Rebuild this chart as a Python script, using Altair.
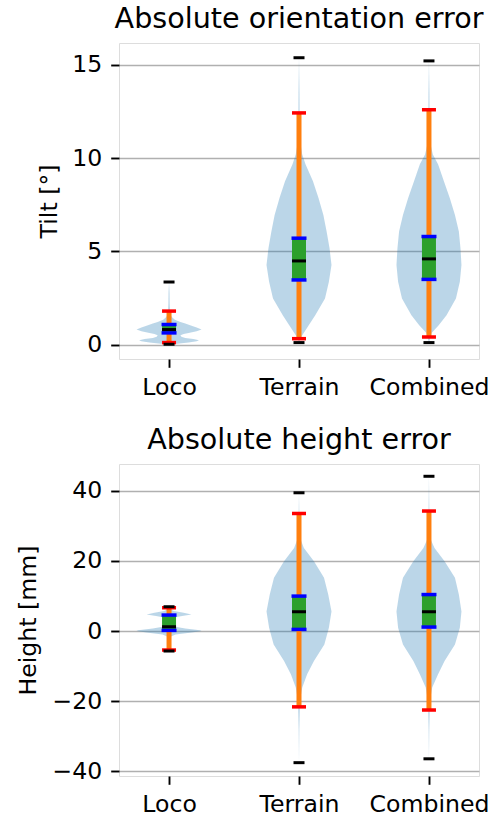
import altair as alt
import pandas as pd

categories = ["Loco", "Terrain", "Combined"]
positions = [1, 2, 3]

# ---- Absolute orientation error (Tilt, degrees) ----
tilt_min = [0.02, 0.11, 0.11]
tilt_whisk_lo = [0.11, 0.32, 0.41]
tilt_q1 = [0.63, 3.47, 3.50]
tilt_median = [0.81, 4.49, 4.60]
tilt_q3 = [1.08, 5.71, 5.80]
tilt_whisk_hi = [1.80, 12.43, 12.60]
tilt_max = [3.36, 15.39, 15.22]

# violin profiles: value and relative half-width (1 = widest)
tilt_loco_v = [0.0, 0.05, 0.11, 0.18, 0.24, 0.30, 0.36, 0.43, 0.50, 0.57, 0.63, 0.72, 0.81, 0.92, 1.04, 1.13, 1.22, 1.34, 1.46, 1.58, 1.8, 2.2, 2.8, 3.36]
tilt_loco_w = [0.0, 0.25, 0.6, 0.85, 0.92, 0.75, 0.5, 0.38, 0.35, 0.45, 0.6, 0.85, 1.0, 0.85, 0.65, 0.5, 0.35, 0.18, 0.1, 0.05, 0.03, 0.02, 0.015, 0.0]
tilt_terrain_v = [0.11, 0.24, 0.5, 1.04, 1.58, 2.48, 3.37, 4.27, 5.17, 6.07, 6.96, 7.86, 8.76, 9.67, 10.2, 10.73, 11.9, 13.5, 15.39]
tilt_terrain_w = [0.0, 0.02, 0.1, 0.3, 0.5, 0.8, 0.92, 1.0, 0.94, 0.85, 0.75, 0.6, 0.43, 0.2, 0.1, 0.05, 0.02, 0.015, 0.0]
tilt_combined_v = [0.11, 0.3, 0.63, 1.04, 1.58, 2.48, 3.37, 4.27, 5.17, 6.07, 6.96, 7.86, 8.76, 9.67, 10.2, 10.73, 11.9, 13.5, 15.22]
tilt_combined_w = [0.0, 0.03, 0.08, 0.3, 0.54, 0.83, 0.95, 1.0, 0.97, 0.92, 0.8, 0.64, 0.46, 0.28, 0.12, 0.05, 0.02, 0.015, 0.0]

# ---- Absolute height error (mm) ----
height_min = [-5.69, -37.5, -36.4]
height_whisk_lo = [-5.41, -21.6, -22.5]
height_q1 = [0.19, 0.47, 1.14]
height_median = [1.23, 5.5, 5.5]
height_q3 = [4.56, 9.96, 10.4]
height_whisk_hi = [6.64, 33.5, 34.2]
height_max = [6.93, 39.4, 44.1]

height_loco_v = [-5.69, -3.0, -1.6, -1.0, -0.4, 0.0, 0.2, 0.7, 1.3, 2.0, 3.0, 3.8, 4.3, 4.75, 5.2, 5.7, 6.2, 6.93]
height_loco_w = [0.0, 0.01, 0.04, 0.2, 0.7, 1.0, 0.95, 0.5, 0.15, 0.05, 0.05, 0.12, 0.4, 0.69, 0.45, 0.15, 0.04, 0.0]
height_terrain_v = [-37.5, -28.0, -19.9, -16.1, -12.3, -8.5, -3.8, 0.95, 5.6, 10.4, 15.2, 19.9, 23.7, 26.6, 32.0, 39.4]
height_terrain_w = [0.0, 0.01, 0.03, 0.1, 0.25, 0.46, 0.78, 0.92, 1.0, 0.9, 0.77, 0.46, 0.15, 0.03, 0.012, 0.0]
height_combined_v = [-36.4, -28.0, -19.9, -16.1, -12.3, -8.5, -3.8, 0.95, 5.6, 10.4, 15.2, 19.9, 23.7, 26.6, 34.0, 44.1]
height_combined_w = [0.0, 0.01, 0.03, 0.1, 0.28, 0.48, 0.8, 0.95, 1.0, 0.92, 0.8, 0.48, 0.17, 0.03, 0.012, 0.0]

FONT = "DejaVu Sans"
X_DOMAIN = [0.615, 3.385]
TICK_FS = 23.6
TITLE_FS = 28.6


def stats_df(mins, wlo, q1, med, q3, whi, maxs):
    return pd.DataFrame({
        "cat": categories, "pos": positions, "min": mins, "wlo": wlo,
        "q1": q1, "median": med, "q3": q3, "whi": whi, "max": maxs,
    })


def violin_df(pos, vs, ws):
    return pd.DataFrame({"pos": [pos] * len(vs), "value": vs, "w": ws})


label_expr = " : ".join(
    f"datum.value == {p} ? '{c}'" for p, c in zip(positions[:-1], categories[:-1])
) + f" : '{categories[-1]}'"


def panel(stats, profiles, title, ytitle, domain, ticks, height, title_x):
    xscale = alt.Scale(domain=X_DOMAIN, nice=False, zero=False)
    yscale = alt.Scale(domain=domain, nice=False, zero=False)
    xaxis = alt.Axis(values=positions, labelExpr=label_expr, grid=False, title=None,
                     domain=False, tickColor="black", tickWidth=1.9, tickSize=8.3,
                     labelFont=FONT, labelFontSize=TICK_FS, labelColor="black",
                     labelPadding=8, labelAngle=0)
    yaxis = alt.Axis(values=ticks, format="d", grid=True, gridColor="#b0b0b0",
                     gridWidth=1.6, domain=False, tickColor="black", tickWidth=1.9,
                     tickSize=8.3, labelFont=FONT, labelFontSize=TICK_FS,
                     labelColor="black", labelPadding=9, title=ytitle,
                     titleFont=FONT, titleFontSize=TICK_FS, titleFontWeight="normal",
                     titleColor="black", titleAngle=270, titleAlign="center",
                     titleBaseline="middle", titleX=title_x, titleY=height / 2)

    def X(field):
        return alt.X(field, type="quantitative", scale=xscale, axis=xaxis, stack=None)

    def Y(field):
        return alt.Y(field, type="quantitative", scale=yscale, axis=yaxis, stack=None)

    layers = []
    for pos, (vs, ws) in zip(positions, profiles):
        layers.append(
            alt.Chart(violin_df(pos, vs, ws)).transform_calculate(
                lo="datum.pos - datum.w * 0.25", hi="datum.pos + datum.w * 0.25"
            ).mark_area(orient="horizontal", color="#1f77b4", opacity=0.3).encode(
                y=Y("value"), x=X("lo"), x2="hi:Q"
            )
        )
    base = alt.Chart(stats)
    layers += [
        base.mark_rule(color="#ff7f0e", strokeWidth=5).encode(
            x=X("pos"), y=Y("wlo"), y2="whi:Q"),
        base.mark_rule(color="#2ca02c", strokeWidth=14).encode(
            x=X("pos"), y=Y("q1"), y2="q3:Q"),
        base.transform_fold(["q1", "q3"], as_=["k", "v"]).mark_tick(
            orient="horizontal", color="#0000ff", size=15, thickness=3.5, opacity=1
        ).encode(x=X("pos"), y=Y("v")),
        base.transform_fold(["wlo", "whi"], as_=["k", "v"]).mark_tick(
            orient="horizontal", color="#ff0000", size=14, thickness=3.5, opacity=1
        ).encode(x=X("pos"), y=Y("v")),
        base.mark_tick(orient="horizontal", color="black", size=14, thickness=3,
                       opacity=1).encode(x=X("pos"), y=Y("median")),
        base.transform_fold(["min", "max"], as_=["k", "v"]).mark_tick(
            orient="horizontal", color="black", size=11, thickness=3, opacity=1
        ).encode(x=X("pos"), y=Y("v")),
    ]

    return alt.layer(*layers).properties(
        width=360, height=height,
        title=alt.TitleParams(title, font=FONT, fontSize=TITLE_FS, fontWeight="normal",
                              color="black", anchor="middle", baseline="alphabetic",
                              frame="group", offset=-14),
    )


top = panel(
    stats_df(tilt_min, tilt_whisk_lo, tilt_q1, tilt_median, tilt_q3, tilt_whisk_hi, tilt_max),
    [(tilt_loco_v, tilt_loco_w), (tilt_terrain_v, tilt_terrain_w),
     (tilt_combined_v, tilt_combined_w)],
    "Absolute orientation error", "Tilt [°]", [-0.77, 16.18], [0, 5, 10, 15], 316, -70,
)
bottom = panel(
    stats_df(height_min, height_whisk_lo, height_q1, height_median, height_q3,
             height_whisk_hi, height_max),
    [(height_loco_v, height_loco_w), (height_terrain_v, height_terrain_w),
     (height_combined_v, height_combined_w)],
    "Absolute height error", "Height [mm]", [-41.3, 47.6], [-40, -20, 0, 20, 40], 312, -90.5,
)

chart = alt.vconcat(top, bottom, spacing=25).properties(
    padding={"left": 16, "top": 4, "right": 5, "bottom": 5}
).configure_view(stroke="black", strokeWidth=1.9).configure(background="white")

chart.save("out.html", embed_options={"renderer": "svg", "actions": False})
